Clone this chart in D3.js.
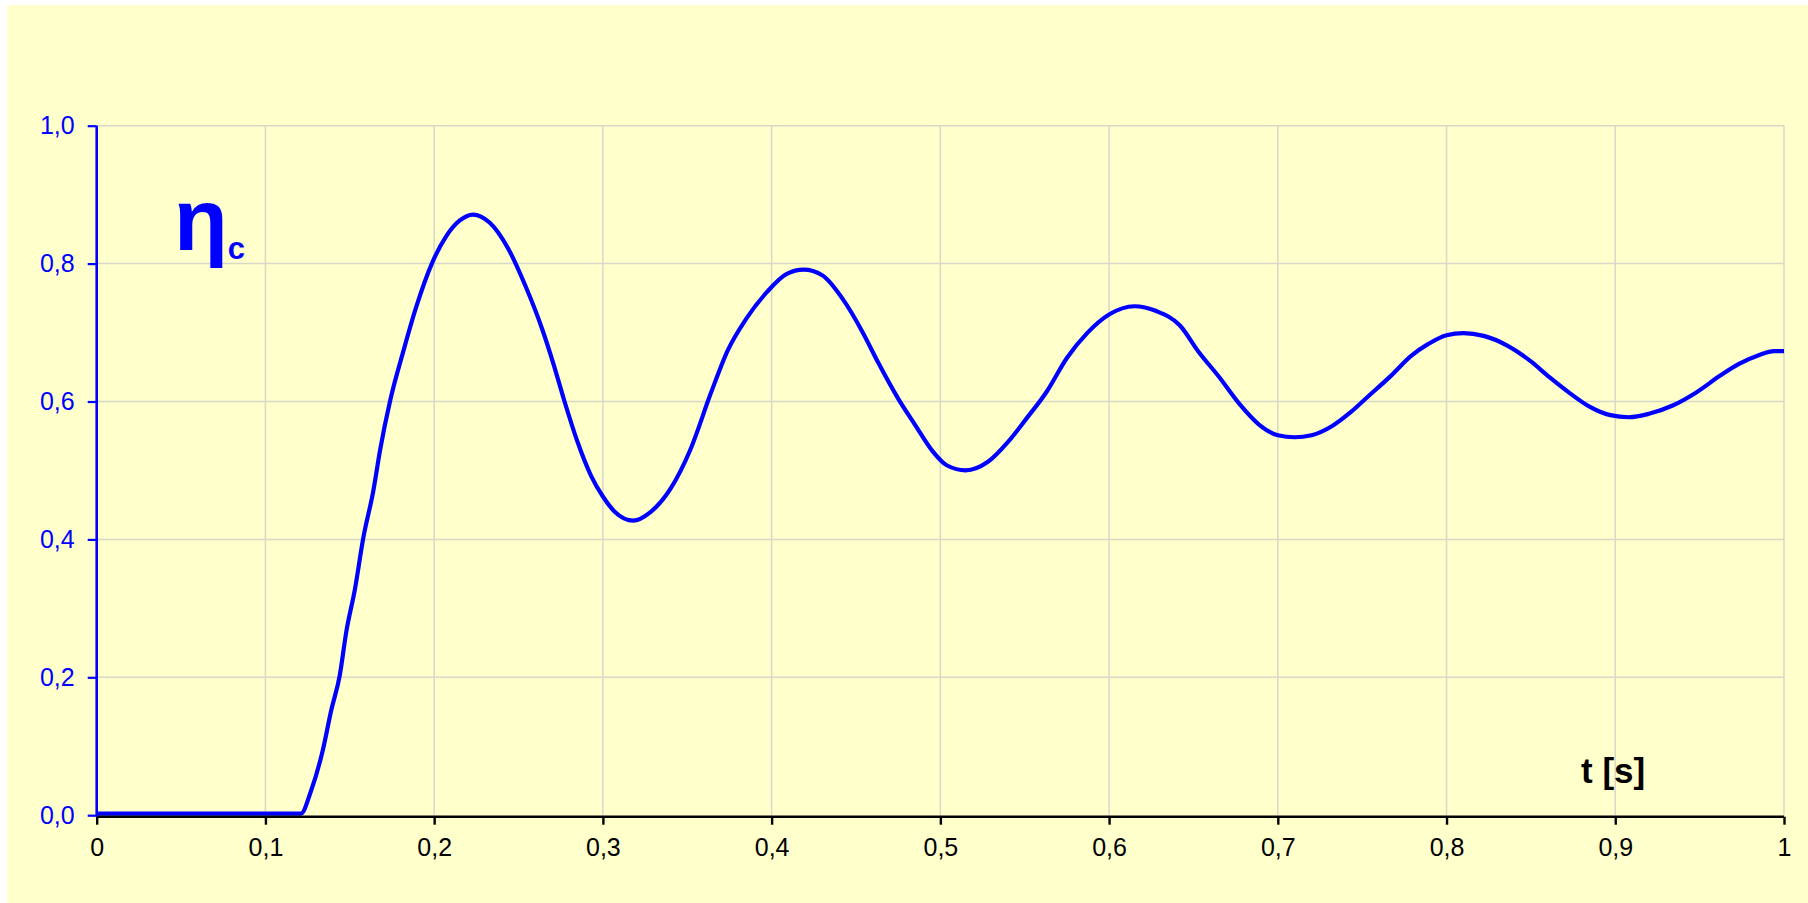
<!DOCTYPE html>
<html>
<head>
<meta charset="utf-8">
<script src="https://cdn.jsdelivr.net/npm/d3@7"></script>
<style>
  html, body { margin: 0; padding: 0; background: #ffffff; }
  svg { display: block; }
</style>
</head>
<body>
<div id="chart"></div>
<script>
// values (time in s, efficiency eta_c)
var timeValues = [0, 0.05, 0.1, 0.121, 0.127, 0.134, 0.139, 0.144, 0.148, 0.153, 0.158, 0.164, 0.168,
  0.174, 0.182, 0.189, 0.199, 0.207, 0.215, 0.223, 0.233, 0.244, 0.254, 0.264, 0.271, 0.277, 0.285,
  0.293, 0.300, 0.307, 0.318, 0.328, 0.340, 0.352, 0.364, 0.374, 0.385, 0.397, 0.409, 0.419, 0.430,
  0.442, 0.454, 0.463, 0.475, 0.485, 0.495, 0.504, 0.515, 0.528, 0.540, 0.551, 0.563, 0.575, 0.587,
  0.600, 0.615, 0.628, 0.642, 0.653, 0.665, 0.677, 0.689, 0.700, 0.710, 0.720, 0.732, 0.743, 0.753,
  0.767, 0.779, 0.789, 0.800, 0.810, 0.822, 0.836, 0.850, 0.861, 0.873, 0.885, 0.897, 0.908, 0.920,
  0.934, 0.948, 0.962, 0.973, 0.985, 0.994, 1.0];
var etaValues = [0, 0, 0, 0, 0.033, 0.092, 0.150, 0.200, 0.265, 0.325, 0.400, 0.469, 0.528,
  0.600, 0.673, 0.732, 0.800, 0.837, 0.860, 0.869, 0.857, 0.819, 0.766, 0.703, 0.650, 0.600, 0.539,
  0.490, 0.460, 0.438, 0.425, 0.437, 0.471, 0.529, 0.610, 0.672, 0.718, 0.756, 0.783, 0.789, 0.781,
  0.747, 0.698, 0.655, 0.602, 0.564, 0.527, 0.505, 0.498, 0.510, 0.539, 0.573, 0.612, 0.661, 0.697,
  0.724, 0.736, 0.729, 0.708, 0.670, 0.634, 0.595, 0.564, 0.549, 0.546, 0.549, 0.562, 0.582, 0.604,
  0.635, 0.664, 0.681, 0.694, 0.697, 0.693, 0.679, 0.656, 0.633, 0.610, 0.590, 0.578, 0.575, 0.580,
  0.592, 0.611, 0.635, 0.652, 0.665, 0.671, 0.671];

var xTickValues = [0, 0.1, 0.2, 0.3, 0.4, 0.5, 0.6, 0.7, 0.8, 0.9, 1];
var xTickLabels = ["0", "0,1", "0,2", "0,3", "0,4", "0,5", "0,6", "0,7", "0,8", "0,9", "1"];
var yTickValues = [0, 0.2, 0.4, 0.6, 0.8, 1.0];
var yTickLabels = ["0,0", "0,2", "0,4", "0,6", "0,8", "1,0"];

var width = 1808, height = 903;
var plot = {left: 96.7, right: 1784, top: 125.7, bottom: 815.2};
var bgColor = "#FFFFCC", gridColor = "#D8D8CA";

var svg = d3.select("#chart").append("svg")
    .attr("width", width)
    .attr("height", height);

// chart area background
svg.append("rect")
    .attr("x", 7).attr("y", 5)
    .attr("width", width - 7).attr("height", height - 5)
    .style("fill", bgColor);

var x = d3.scaleLinear().domain([0, 1]).range([plot.left, plot.right]);
var y = d3.scaleLinear().domain([0, 1]).range([plot.bottom, plot.top]);

// gridlines
svg.append("g").attr("class", "hgrid")
  .selectAll("line").data(yTickValues.slice(1)).enter().append("line")
    .attr("x1", plot.left).attr("x2", plot.right)
    .attr("y1", function(d) { return y(d); })
    .attr("y2", function(d) { return y(d); })
    .style("stroke", gridColor).style("stroke-width", 1.5);

svg.append("g").attr("class", "vgrid")
  .selectAll("line").data(xTickValues.slice(1)).enter().append("line")
    .attr("y1", plot.top).attr("y2", plot.bottom)
    .attr("x1", function(d) { return x(d); })
    .attr("x2", function(d) { return x(d); })
    .style("stroke", gridColor).style("stroke-width", 1.5);

// curve
var data = timeValues.map(function(t, i) { return {t: t, v: etaValues[i]}; });
var line = d3.line()
    .x(function(d) { return x(d.t); })
    .y(function(d) { return y(d.v) - 1.5; })
    .curve(d3.curveMonotoneX);

svg.append("path")
    .datum(data)
    .attr("d", line)
    .style("fill", "none")
    .style("stroke", "#0000FF")
    .style("stroke-width", 4.2)
    .style("stroke-linejoin", "round");

// x axis (black)
var xAxis = d3.axisBottom(x)
    .tickValues(xTickValues)
    .tickFormat(function(d, i) { return xTickLabels[i]; })
    .tickSize(8)
    .tickPadding(14);

var gx = svg.append("g")
    .attr("transform", "translate(0," + (plot.bottom + 1.5) + ")")
    .call(xAxis);
gx.select(".domain").attr("d", "M" + plot.left + ",0H" + plot.right)
    .style("stroke", "#000").style("stroke-width", 2.6);
gx.selectAll(".tick line").style("stroke", "#000").style("stroke-width", 2.4);
gx.selectAll(".tick text")
    .style("fill", "#000")
    .style("font-family", "'Liberation Sans', Arial, sans-serif")
    .style("font-size", "25px");

// y axis (blue)
var yAxis = d3.axisLeft(y)
    .tickValues(yTickValues)
    .tickFormat(function(d, i) { return yTickLabels[i]; })
    .tickSize(9)
    .tickPadding(13);

var gy = svg.append("g")
    .attr("transform", "translate(" + plot.left + ",0)")
    .call(yAxis);
gy.select(".domain").attr("d", "M0," + plot.top + "V" + (plot.bottom + 1.5))
    .style("stroke", "#0000FF").style("stroke-width", 2.6);
gy.selectAll(".tick line").style("stroke", "#0000FF").style("stroke-width", 2.2);
gy.selectAll(".tick text")
    .style("fill", "#0000FF")
    .style("font-family", "'Liberation Sans', Arial, sans-serif")
    .style("font-size", "25px");

// labels
var eta = svg.append("text")
    .attr("x", 174).attr("y", 250)
    .style("fill", "#0000FF")
    .style("font-family", "'Liberation Sans', Arial, sans-serif")
    .style("font-weight", "bold")
    .style("font-size", "88px")
    .text("η");
eta.append("tspan")
    .attr("dx", 0).attr("dy", 9)
    .style("font-size", "31px")
    .text("c");

svg.append("text")
    .attr("x", 1581).attr("y", 783)
    .style("fill", "#000")
    .style("font-family", "'Liberation Sans', Arial, sans-serif")
    .style("font-weight", "bold")
    .style("font-size", "35px")
    .text("t [s]");
</script>
</body>
</html>
